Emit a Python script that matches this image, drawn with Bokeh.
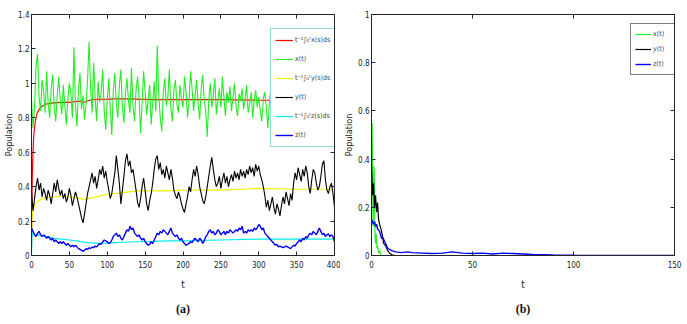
from bokeh.plotting import figure
from bokeh.layouts import row
from bokeh.models import (Range1d, FixedTicker, CustomJSTickFormatter, Legend,
                          LegendItem, LinearAxis, Title)
from bokeh.embed import file_html
from bokeh.resources import INLINE

# ---------------- panel (a) data ----------------
t_a = list(range(0, 401, 2))

x_a = [0.90, 0.74, 0.86, 1.10, 1.17, 0.92, 0.84, 1.02, 0.95, 0.83,
       1.07, 0.88, 0.80, 0.97, 1.05, 0.86, 0.78, 0.93, 1.04, 0.90,
       0.82, 0.99, 0.87, 0.76, 0.91, 1.00, 0.94, 0.80, 1.21, 0.88,
       0.75, 0.96, 1.06, 0.85, 0.93, 0.79, 0.88, 1.02, 1.24, 0.97,
       0.83, 1.12, 0.92, 0.78, 1.01, 0.89, 0.95, 1.08, 0.84, 0.73,
       0.90, 1.03, 0.85, 0.70, 0.96, 1.06, 0.88, 0.80, 0.99, 1.08,
       0.86, 0.77, 0.94, 1.03, 0.90, 0.83, 1.09, 0.87, 0.78, 0.96,
       1.04, 0.92, 0.71, 0.88, 1.07, 0.95, 0.82, 0.90, 0.99, 0.76,
       0.89, 1.01, 0.84, 1.22, 0.93, 0.80, 0.72, 0.95, 1.03, 0.87,
       0.92, 1.08, 0.85, 0.78, 0.96, 1.02, 0.88, 0.83, 0.99, 0.91,
       0.86, 1.04, 0.95, 0.80, 0.90, 1.07, 0.97, 0.84, 0.93, 1.02,
       0.88, 0.79, 0.97, 1.05, 0.91, 0.84, 0.69, 0.90, 1.00, 0.86,
       0.93, 1.03, 0.82, 0.90, 0.97, 0.86, 1.04, 0.92, 0.81, 0.95,
       0.89, 0.98, 0.84, 0.92, 1.00, 0.87, 0.81, 0.94, 0.90, 0.97,
       0.85, 0.91, 0.99, 0.83, 0.88, 0.95, 0.80, 0.90, 0.96, 0.86,
       0.92, 0.84, 0.78, 0.91, 0.95, 0.86, 0.74, 0.89, 0.97, 0.88,
       0.93, 0.82, 0.98, 0.86, 1.02, 0.84, 0.95, 0.80, 0.99, 0.87,
       0.91, 0.79, 1.00, 0.86, 0.94, 0.83, 1.03, 0.88, 0.92, 0.81,
       0.97, 0.86, 1.04, 0.84, 0.93, 0.80, 0.99, 0.87, 0.95, 0.83,
       1.01, 0.88, 0.92, 0.85, 1.00, 0.93, 0.98, 1.04, 0.92, 0.86,
       0.72]

y_a = [0.37, 0.26, 0.33, 0.40, 0.45, 0.38, 0.42, 0.34, 0.39, 0.36,
       0.32, 0.38, 0.35, 0.30, 0.36, 0.42, 0.37, 0.44, 0.39, 0.35,
       0.38, 0.33, 0.36, 0.31, 0.34, 0.39, 0.35, 0.29, 0.33, 0.37,
       0.34, 0.30, 0.26, 0.22, 0.19, 0.24, 0.30, 0.36, 0.40, 0.44,
       0.48, 0.42, 0.46, 0.39, 0.44, 0.50, 0.47, 0.52, 0.45, 0.49,
       0.43, 0.38, 0.33, 0.36, 0.42, 0.48, 0.58, 0.50, 0.42, 0.30,
       0.38, 0.46, 0.55, 0.59, 0.52, 0.55, 0.48, 0.50, 0.44, 0.38,
       0.31, 0.28, 0.33, 0.40, 0.45, 0.38, 0.30, 0.26, 0.32, 0.36,
       0.42, 0.50, 0.56, 0.58, 0.50, 0.54, 0.47, 0.50, 0.45, 0.52,
       0.48, 0.44, 0.50, 0.45, 0.38, 0.35, 0.33, 0.37, 0.34, 0.30,
       0.27, 0.25, 0.30, 0.34, 0.40, 0.37, 0.44, 0.50, 0.46, 0.52,
       0.47, 0.40, 0.36, 0.32, 0.30, 0.34, 0.40, 0.46, 0.52, 0.57,
       0.50, 0.44, 0.40, 0.42, 0.46, 0.39, 0.44, 0.48, 0.42, 0.46,
       0.40, 0.44, 0.47, 0.43, 0.49, 0.45, 0.48, 0.44, 0.50, 0.46,
       0.49, 0.45, 0.50, 0.47, 0.52, 0.48, 0.51, 0.46, 0.53, 0.49,
       0.52, 0.47, 0.44, 0.40, 0.35, 0.28, 0.32, 0.26, 0.30, 0.34,
       0.28, 0.24, 0.30, 0.27, 0.23, 0.29, 0.34, 0.30, 0.37, 0.33,
       0.29, 0.36, 0.32, 0.42, 0.48, 0.44, 0.51, 0.47, 0.43, 0.50,
       0.46, 0.52, 0.48, 0.40, 0.36, 0.44, 0.50, 0.48, 0.42, 0.38,
       0.40, 0.46, 0.53, 0.55, 0.44, 0.38, 0.36, 0.40, 0.42, 0.36,
       0.28]

z_a = [0.16, 0.14, 0.12, 0.11, 0.13, 0.14, 0.12, 0.11, 0.12, 0.11,
       0.10, 0.11, 0.10, 0.09, 0.10, 0.08, 0.09, 0.08, 0.07, 0.08,
       0.07, 0.08, 0.07, 0.06, 0.07, 0.06, 0.05, 0.06, 0.05, 0.06,
       0.05, 0.04, 0.035, 0.03, 0.025, 0.03, 0.04, 0.035, 0.045, 0.04,
       0.05, 0.045, 0.055, 0.05, 0.06, 0.07, 0.065, 0.08, 0.09, 0.085,
       0.08, 0.07, 0.075, 0.09, 0.11, 0.12, 0.13, 0.11, 0.12, 0.10,
       0.09, 0.11, 0.13, 0.15, 0.14, 0.17, 0.15, 0.16, 0.13, 0.12,
       0.11, 0.12, 0.10, 0.09, 0.10, 0.08, 0.07, 0.06, 0.065, 0.08,
       0.07, 0.09, 0.11, 0.13, 0.12, 0.14, 0.13, 0.15, 0.14, 0.13,
       0.12, 0.14, 0.16, 0.13, 0.12, 0.11, 0.12, 0.10, 0.09, 0.10,
       0.08, 0.07, 0.06, 0.065, 0.07, 0.08, 0.075, 0.09, 0.10, 0.09,
       0.08, 0.10, 0.09, 0.07, 0.085, 0.11, 0.12, 0.14, 0.15, 0.13,
       0.14, 0.12, 0.13, 0.15, 0.14, 0.12, 0.13, 0.14, 0.12, 0.14,
       0.13, 0.15, 0.14, 0.13, 0.14, 0.15, 0.14, 0.16, 0.15, 0.17,
       0.13, 0.14, 0.13, 0.15, 0.14, 0.15, 0.14, 0.16, 0.15, 0.16,
       0.18, 0.17, 0.15, 0.16, 0.13, 0.12, 0.11, 0.10, 0.09, 0.08,
       0.07, 0.06, 0.065, 0.05, 0.055, 0.05, 0.045, 0.05, 0.055, 0.05,
       0.045, 0.04, 0.05, 0.06, 0.055, 0.07, 0.08, 0.09, 0.08, 0.10,
       0.09, 0.11, 0.10, 0.12, 0.13, 0.12, 0.14, 0.13, 0.12, 0.14,
       0.16, 0.14, 0.12, 0.13, 0.11, 0.12, 0.125, 0.11, 0.12, 0.11,
       0.08]

avg_t = [0, 0.5, 1, 2, 3, 5, 7, 10, 15, 20, 25, 30, 40, 50, 60, 65, 70, 75,
         80, 90, 100, 110, 120, 140, 160, 180, 200, 250, 300, 350, 400]
avg_x = [0.05, 0.30, 0.45, 0.60, 0.70, 0.78, 0.82, 0.85, 0.87, 0.88, 0.885,
         0.887, 0.89, 0.89, 0.895, 0.895, 0.89, 0.90, 0.905, 0.907, 0.908,
         0.91, 0.91, 0.908, 0.905, 0.905, 0.905, 0.905, 0.903, 0.902, 0.90]
avg_y = [0.05, 0.20, 0.24, 0.26, 0.28, 0.30, 0.31, 0.32, 0.33, 0.335, 0.34,
         0.34, 0.345, 0.34, 0.335, 0.33, 0.325, 0.33, 0.335, 0.345, 0.355,
         0.36, 0.365, 0.375, 0.375, 0.375, 0.38, 0.38, 0.39, 0.385, 0.385]
avg_z = [0.0, 0.10, 0.13, 0.13, 0.125, 0.12, 0.12, 0.118, 0.115, 0.11, 0.105,
         0.10, 0.095, 0.09, 0.085, 0.08, 0.078, 0.075, 0.073, 0.07, 0.072,
         0.075, 0.077, 0.08, 0.082, 0.085, 0.085, 0.09, 0.095, 0.095, 0.095]

# ---------------- panel (b) data ----------------
tb_x = [0, 0.3, 0.8, 1.3, 1.7, 2.0, 2.3, 2.7, 3.0, 3.5, 4.0, 4.5, 5, 6, 8, 150]
xb = [0.28, 0.55, 0.12, 0.37, 0.10, 0.05, 0.09, 0.03, 0.04, 0.01, 0.02,
      0.005, 0, 0, 0, 0]
tb_y = [0, 0.5, 1, 1.5, 2, 2.5, 3, 3.5, 4, 5, 6, 7, 8, 9, 10, 12, 150]
yb = [0.38, 0.25, 0.30, 0.20, 0.25, 0.18, 0.22, 0.15, 0.13, 0.10, 0.05,
      0.04, 0.02, 0.01, 0.003, 0.0, 0.0]
tb_z = [0, 1, 1.5, 2, 2.5, 3, 4, 5, 5.5, 7, 8, 10, 12, 15, 18, 20, 25, 30,
        35, 40, 45, 50, 55, 60, 65, 70, 75, 80, 90, 100, 150]
zb = [0.15, 0.13, 0.14, 0.12, 0.13, 0.11, 0.10, 0.07, 0.075, 0.05, 0.03,
      0.02, 0.015, 0.012, 0.015, 0.012, 0.01, 0.008, 0.01, 0.015, 0.01,
      0.008, 0.01, 0.006, 0.01, 0.008, 0.006, 0.004, 0.002, 0.001, 0.0]

xticks_a = [0, 50, 100, 150, 200, 250, 300, 350, 400]
yticks_a = [0, 0.2, 0.4, 0.6, 0.8, 1, 1.2, 1.4]
xticks_b = [0, 50, 100, 150]
yticks_b = [0, 0.2, 0.4, 0.6, 0.8, 1]

FONT = "'Liberation Sans Narrow', 'DejaVu Sans Condensed', 'Liberation Sans', sans-serif"
AX = "#262626"
fmt_code = "return tick.toString()"


def make_fig(width, xr, yr, xticks, yticks, bl, br, tag):
    p = figure(width=width, height=322, output_backend="svg",
               toolbar_location=None, x_range=Range1d(*xr), y_range=Range1d(*yr),
               min_border_left=bl, min_border_right=br, min_border_top=14,
               min_border_bottom=66)
    p.grid.visible = False
    p.outline_line_color = AX
    p.outline_line_width = 1
    for ax in (p.xaxis[0], p.yaxis[0]):
        ax.major_label_text_font = FONT
        ax.major_label_text_font_size = "8px"
        ax.major_label_text_color = "#222222"
        ax.axis_label_text_font = FONT
        ax.axis_label_text_font_style = "normal"
        ax.axis_label_text_font_size = "10px"
        ax.axis_label_text_color = "#222222"
        ax.axis_line_color = AX
        ax.major_tick_line_color = AX
        ax.major_tick_in = 4
        ax.major_tick_out = 0
        ax.minor_tick_line_color = None
        ax.formatter = CustomJSTickFormatter(code=fmt_code)
    p.xaxis[0].ticker = FixedTicker(ticks=xticks)
    p.yaxis[0].ticker = FixedTicker(ticks=yticks)
    p.xaxis[0].axis_label = "t"
    p.xaxis[0].major_label_standoff = 5
    p.xaxis[0].axis_label_standoff = 8
    p.yaxis[0].axis_label = "Population"
    p.yaxis[0].axis_label_text_font_size = "9px"
    p.yaxis[0].major_label_standoff = 2
    p.yaxis[0].axis_label_standoff = 1
    # mirrored ticks on top and right (box style), labels not drawn
    top = LinearAxis(ticker=FixedTicker(ticks=xticks), major_label_text_font_size="1px",
                     major_label_text_color=None, major_tick_in=4, major_tick_out=0,
                     minor_tick_line_color=None, axis_line_color=AX,
                     major_tick_line_color=AX, major_label_standoff=0)
    right = LinearAxis(ticker=FixedTicker(ticks=yticks), major_label_text_font_size="1px",
                       major_label_text_color=None, major_tick_in=4, major_tick_out=0,
                       minor_tick_line_color=None, axis_line_color=AX,
                       major_tick_line_color=AX, major_label_standoff=0)
    p.add_layout(top, "above")
    p.add_layout(right, "right")
    p.add_layout(Title(text=tag, align="center", text_font="'Liberation Serif', serif",
                       text_font_size="12px", text_font_style="bold",
                       text_color="#111111", standoff=14), "below")
    return p


# ---------------- panel (a) ----------------
pa = make_fig(340, (0, 400), (0, 1.4), xticks_a, yticks_a, 31, 6, "(a)")
r1 = pa.line(avg_t, avg_x, line_color="#ff0000", line_width=1.2)
r2 = pa.line(t_a, x_a, line_color="#22ee22", line_width=1.1)
r3 = pa.line(avg_t, avg_y, line_color="#f2f200", line_width=1.2)
r4 = pa.line(t_a, y_a, line_color="#000000", line_width=1.1)
r5 = pa.line(avg_t, avg_z, line_color="#00eeee", line_width=1.2)
r6 = pa.line(t_a, z_a, line_color="#0000ff", line_width=1.4)

leg_a = Legend(items=[
    LegendItem(label="t\u207b\u00b9\u222b\u2080\u1d57x(s)ds", renderers=[r1]),
    LegendItem(label="x(t)", renderers=[r2]),
    LegendItem(label="t\u207b\u00b9\u222b\u2080\u1d57y(s)ds", renderers=[r3]),
    LegendItem(label="y(t)", renderers=[r4]),
    LegendItem(label="t\u207b\u00b9\u222b\u2080\u1d57z(s)ds", renderers=[r5]),
    LegendItem(label="z(t)", renderers=[r6]),
], location=(239, 108), border_line_color="#20b8c0", border_line_width=1,
   background_fill_color="white", background_fill_alpha=1.0,
   label_text_font=FONT, label_text_font_size="7px", label_standoff=2,
   glyph_width=18, glyph_height=14, label_height=14, spacing=5, padding=4,
   margin=0)
pa.add_layout(leg_a)

# ---------------- panel (b) ----------------
pb = make_fig(346, (0, 150), (0, 1), xticks_b, yticks_b, 31, 12, "(b)")
s1 = pb.line(tb_x, xb, line_color="#22ee22", line_width=1.2)
s2 = pb.line(tb_y, yb, line_color="#000000", line_width=1.2)
s3 = pb.line(tb_z, zb, line_color="#0000ff", line_width=1.4)
leg_b = Legend(items=[
    LegendItem(label="x(t)", renderers=[s1]),
    LegendItem(label="y(t)", renderers=[s2]),
    LegendItem(label="z(t)", renderers=[s3]),
], location=(259, 180), border_line_color="#000000", border_line_width=1,
   background_fill_color="white", background_fill_alpha=1.0,
   label_text_font=FONT, label_text_font_size="7px", label_standoff=2,
   glyph_width=16, glyph_height=12, label_height=12, spacing=3, padding=4,
   margin=0)
pb.add_layout(leg_b)

layout = row(pa, pb)
open("out.html", "w").write(file_html(layout, INLINE))
